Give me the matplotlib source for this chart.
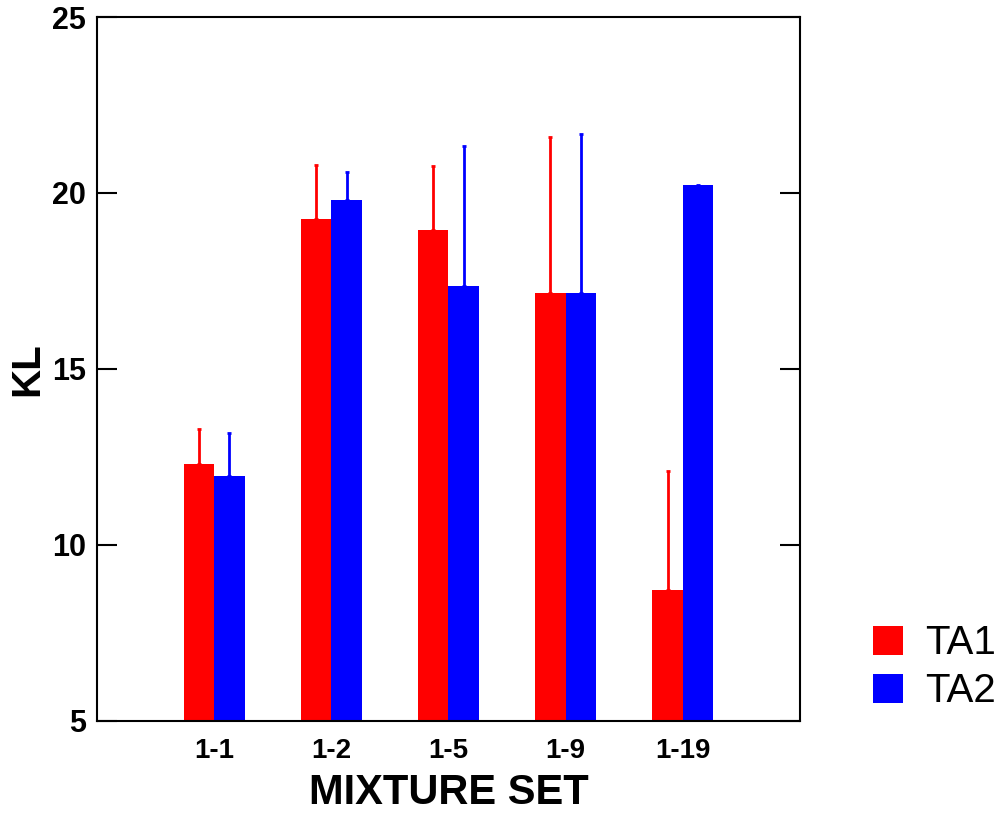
import numpy as np
import matplotlib.pyplot as plt

plt.rcParams['font.family'] = ['Liberation Sans', 'DejaVu Sans']

# KL values per mixture set, with upper error
mixtures = ["1-1", "1-2", "1-5", "1-9", "1-19"]
ta1 = [12.29, 19.25, 18.95, 17.15, 8.72]
ta1_err = [1.0, 1.55, 1.82, 4.45, 3.39]
ta2 = [11.97, 19.79, 17.37, 17.15, 20.23]
ta2_err = [1.2, 0.8, 3.97, 4.53, np.nan]

x = np.arange(len(mixtures))
w = 0.26

fig = plt.figure(figsize=(10.06, 8.14), dpi=100)
ax = fig.add_axes([0.0964, 0.1143, 0.6988, 0.8648])

err_style = dict(elinewidth=2, capsize=1.5, capthick=2)
ax.bar(x - w / 2, ta1, w, color="#ff0000", linewidth=0, label="TA1",
       yerr=[np.zeros(len(ta1)), ta1_err], error_kw=dict(ecolor="#ff0000", **err_style))
ax.bar(x + w / 2, ta2, w, color="#0000ff", linewidth=0, label="TA2",
       yerr=[np.zeros(len(ta2)), ta2_err], error_kw=dict(ecolor="#0000ff", **err_style))

ax.set_xlim(-1, 5)
ax.set_ylim(5, 25)
ax.set_yticks([5, 10, 15, 20, 25])
ax.set_xticks(x)
ax.set_xticklabels(mixtures, fontsize=20, fontweight="bold")
ax.tick_params(axis="y", direction="in", length=14.5, width=1.5, right=True,
               labelsize=22, pad=8)
for lab in ax.get_yticklabels():
    lab.set_fontweight("bold")
ax.tick_params(axis="x", length=0, pad=12)

for s in ax.spines.values():
    s.set_linewidth(1.5)

ax.set_xlabel("MIXTURE SET", fontsize=30, fontweight="bold", labelpad=7)
ax.set_ylabel("KL", fontsize=29, fontweight="bold", labelpad=4)

fig.legend(loc="upper left", bbox_to_anchor=(0.868, 0.233), frameon=False,
           fontsize=29, handlelength=0.75, handleheight=0.75, handletextpad=0.55,
           labelspacing=0.25, borderpad=0, borderaxespad=0)

fig.savefig("out.png", dpi=100)
